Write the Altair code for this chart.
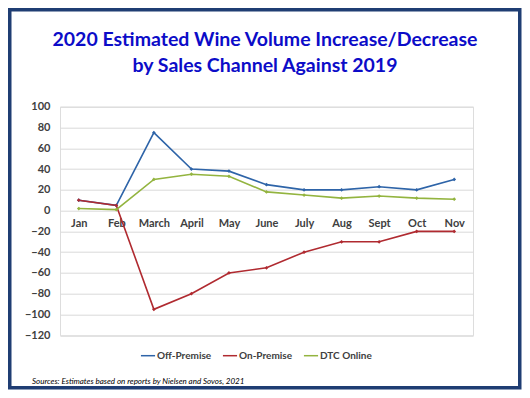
import altair as alt
import pandas as pd

months = ["Jan", "Feb", "March", "April", "May", "June", "July", "Aug", "Sept", "Oct", "Nov"]
off_premise = [10, 5, 75, 40, 38, 25, 20, 20, 23, 20, 30]
on_premise = [10, 5, -95, -80, -60, -55, -40, -30, -30, -20, -20]
dtc_online = [2, 1, 30, 35, 33, 18, 15, 12, 14, 12, 11]
series = ["Off-Premise", "On-Premise", "DTC Online"]
colors = ["#2E64A8", "#B02A30", "#93B43F"]
y_ticks = list(range(-120, 101, 20))
title_lines = ["2020 Estimated Wine Volume Increase/Decrease", "by Sales Channel Against 2019"]
source_text = "Sources: Estimates based on reports by Nielsen and Sovos, 2021"

rows = []
for name, vals in zip(series, [off_premise, on_premise, dtc_online]):
    for m, v in zip(months, vals):
        rows.append({"Month": m, "Value": v, "Series": name})
df = pd.DataFrame(rows)

W, H = 413, 228.6
PL, PT, PR, PB = 52, 98.7, 49, 54.7
FONT = "Lato"

x_enc = alt.X("Month:N", sort=months,
              scale=alt.Scale(type="point", padding=0.5, domain=months),
              axis=alt.Axis(title=None, orient="bottom", offset=-124.7, domain=False, ticks=False,
                            labelAngle=0, labelFontSize=11, labelFont=FONT, labelFontWeight="bold",
                            labelColor="#404040", labelPadding=7, grid=False))
y_enc = alt.Y("Value:Q", scale=alt.Scale(domain=[-120, 100], nice=False),
              axis=alt.Axis(title=None, values=y_ticks, domain=False, ticks=False,
                            labelFontSize=11, labelFont=FONT, labelFontWeight="bold",
                            labelColor="#404040", labelPadding=10, gridColor="#D9D9D9", gridWidth=1))
color_scale = alt.Scale(domain=series, range=colors)
color_enc = alt.Color("Series:N", sort=series, scale=color_scale,
                      legend=alt.Legend(title=None, orient="none", direction="horizontal",
                                        legendX=80, legendY=241, symbolType="stroke",
                                        symbolStrokeWidth=1.5, symbolSize=200,
                                        labelFont=FONT, labelFontSize=10, labelFontWeight="bold",
                                        labelColor="#404040", columnPadding=7, labelOffset=1))

base = alt.Chart(df)
lines = base.mark_line(strokeWidth=1.6).encode(x=x_enc, y=y_enc, color=color_enc, detail="Series:N")
points = base.mark_point(filled=True, size=14, shape="diamond", opacity=1).encode(
    x=x_enc, y=y_enc, color=alt.Color("Series:N", sort=series, scale=color_scale, legend=None))

one = pd.DataFrame({"a": [0]})
title1 = alt.Chart(one).mark_text(font=FONT, fontSize=19.5, fontWeight="bold", color="#0C0CC8",
                                  align="center", baseline="middle", text=title_lines[0]).encode(
    x=alt.value(205), y=alt.value(-66.7))
title2 = alt.Chart(one).mark_text(font=FONT, fontSize=19.5, fontWeight="bold", color="#0C0CC8",
                                  align="center", baseline="middle", text=title_lines[1]).encode(
    x=alt.value(205), y=alt.value(-40.7))

src = alt.Chart(one).mark_text(
    font=FONT, fontSize=8, fontStyle="italic", color="#000000", align="left", baseline="middle",
    text=source_text).encode(x=alt.value(-28), y=alt.value(275))

frame = alt.Chart(one).mark_rect(
    fill=None, fillOpacity=0, stroke="#1F3D73", strokeWidth=3.5).encode(
    x=alt.value(-PL + 1.75), x2=alt.value(W + PR - 2.25),
    y=alt.value(-PT + 1.75), y2=alt.value(H + PB - 2.25))

chart = alt.layer(lines, points, title1, title2, src, frame).properties(
    width=W, height=H,
    autosize=alt.AutoSizeParams(type="none"),
    padding={"left": PL, "top": PT, "right": PR, "bottom": PB},
).configure_view(stroke=None).configure(background="white")

chart.save("out.html", embed_options={"renderer": "svg", "actions": False})
